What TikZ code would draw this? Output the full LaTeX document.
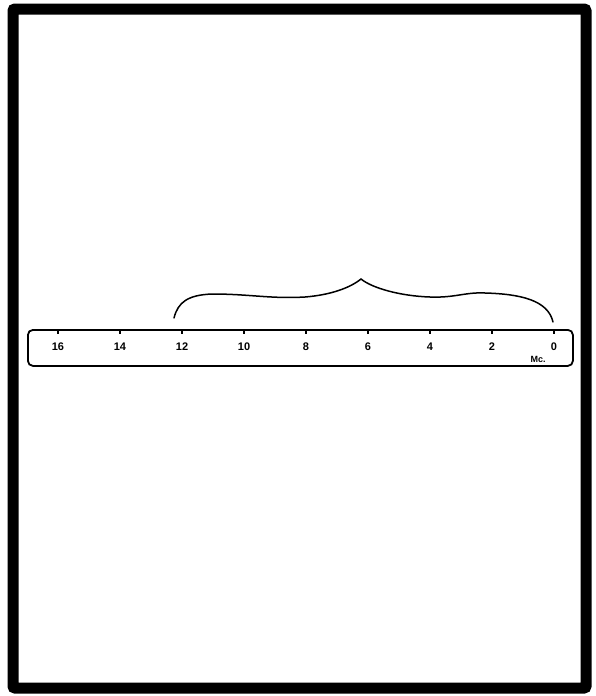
\documentclass[tikz,border=0pt]{standalone}
\usepackage{fontspec}
\setmainfont{Liberation Sans}
\begin{document}
\begin{tikzpicture}[x=1pt,y=-1pt,
  frame/.style={line width=11pt, rounded corners=2pt},
  rulerbox/.style={draw, line width=1.8pt, rounded corners=5pt, minimum width=545pt, minimum height=36pt, inner sep=0pt, anchor=north west},
  tickmark/.style={line width=1.3pt},
  numlabel/.style={font=\fontsize{11}{11}\selectfont\bfseries, inner sep=0pt},
  unitlabel/.style={font=\fontsize{9}{9}\selectfont\bfseries, inner sep=0pt},
  bracecurve/.style={line width=1.5pt, line cap=round}]
\useasboundingbox (0,0) rectangle (596,696);
\draw[frame] (13,9) rectangle (586,688);
\node[rulerbox] (ruler) at (27,329) {};
\foreach \v in {0,2,...,16}{
  \coordinate (t\v) at ({554-31*\v},329);
  \draw[tickmark] (t\v) -- ++(0,5);
  \node[numlabel] (n\v) at ({554-31*\v},347) {\v};
}
\node[unitlabel] (unit) at (538,359) {Mc.};
\coordinate (bl) at (174,318);
\coordinate (bp) at (361,279);
\coordinate (br) at (553,322);
\draw[bracecurve] (bl) .. controls (178,302) and (188,295) .. (212,294)
  .. controls (250,294) and (270,299) .. (305,297)
  .. controls (330,295) and (350,288) .. (bp)
  .. controls (372,288) and (400,296) .. (430,297)
  .. controls (455,298) and (465,292) .. (485,293)
  .. controls (520,294) and (548,300) .. (br);
\end{tikzpicture}
\end{document}
